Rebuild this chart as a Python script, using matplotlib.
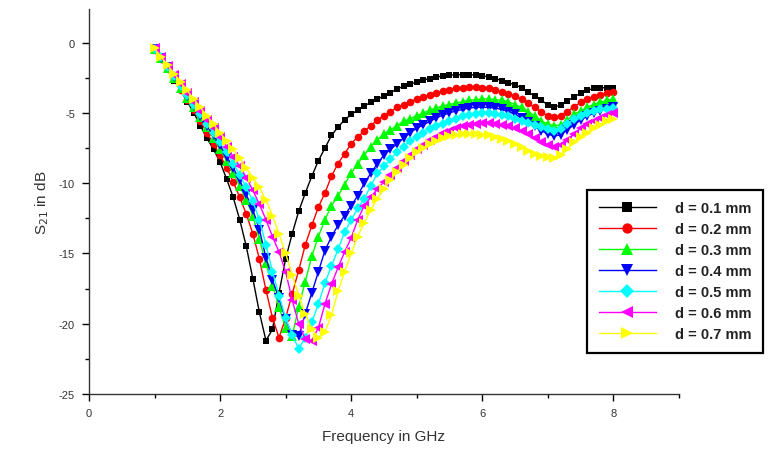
import numpy as np
import matplotlib
matplotlib.use("Agg")
import matplotlib.pyplot as plt
from matplotlib.ticker import MultipleLocator

plt.rcParams['font.family'] = ['Liberation Sans', 'DejaVu Sans']
plt.rcParams['axes.unicode_minus'] = False

# frequency points, 1.0 .. 8.0 GHz in 0.1 steps
freq = np.round(np.arange(10, 81) / 10.0, 1)

s21_d01 = [-0.5, -1.2, -1.9, -2.7, -3.4, -4.2, -5.0, -5.9, -6.8, -7.6,
           -8.5, -9.7, -11.0, -12.6, -14.5, -16.8, -19.2, -21.2, -20.4, -17.8,
           -15.4, -13.6, -12.0, -10.7, -9.5, -8.4, -7.5, -6.6, -6.0, -5.5,
           -5.1, -4.8, -4.5, -4.25, -4.0, -3.8, -3.55, -3.3, -3.1, -2.95,
           -2.8, -2.65, -2.55, -2.45, -2.35, -2.3, -2.28, -2.27, -2.28, -2.3,
           -2.35, -2.45, -2.55, -2.7, -2.85, -3.0, -3.2, -3.5, -3.8, -4.1,
           -4.4, -4.55, -4.45, -4.15, -3.85, -3.6, -3.4, -3.25, -3.2, -3.2, -3.2]

s21_d02 = [-0.5, -1.15, -1.85, -2.6, -3.35, -4.1, -4.8, -5.6, -6.4, -7.2,
           -8.0, -8.9, -9.9, -11.0, -12.2, -13.6, -15.4, -17.6, -19.6, -21.0,
           -19.6, -17.9, -16.2, -14.4, -13.0, -11.7, -10.7, -9.5, -8.6, -7.9,
           -7.2, -6.7, -6.3, -5.9, -5.5, -5.2, -4.9, -4.6, -4.4, -4.2,
           -4.0, -3.85, -3.7, -3.55, -3.45, -3.35, -3.25, -3.2, -3.15, -3.15,
           -3.2, -3.25, -3.35, -3.5, -3.65, -3.8, -4.0, -4.3, -4.6, -4.95,
           -5.2, -5.3, -5.2, -4.9, -4.55, -4.25, -4.0, -3.85, -3.7, -3.6, -3.5]

s21_d03 = [-0.45, -1.1, -1.8, -2.5, -3.2, -3.9, -4.6, -5.3, -6.0, -6.8,
           -7.6, -8.4, -9.3, -10.2, -11.2, -12.3, -14.0, -15.7, -17.3, -18.8,
           -20.3, -20.9, -18.8, -17.0, -15.2, -13.8, -12.6, -11.6, -10.9, -10.1,
           -9.3, -8.6, -8.0, -7.4, -6.9, -6.5, -6.2, -5.9, -5.6, -5.4,
           -5.2, -5.0, -4.8, -4.65, -4.5, -4.4, -4.3, -4.2, -4.1, -4.05,
           -4.0, -4.0, -4.05, -4.1, -4.2, -4.4, -4.6, -4.9, -5.2, -5.55,
           -5.8, -5.9, -5.85, -5.5, -5.1, -4.85, -4.6, -4.4, -4.25, -4.1, -4.0]

s21_d04 = [-0.45, -1.1, -1.75, -2.45, -3.1, -3.8, -4.5, -5.2, -5.9, -6.6,
           -7.3, -8.1, -8.9, -9.8, -10.8, -11.9, -13.3, -15.3, -16.9, -18.2,
           -19.7, -20.8, -20.9, -19.3, -17.8, -16.3, -14.8, -13.8, -13.0, -12.3,
           -11.6, -10.9, -10.0, -9.3, -8.6, -8.0, -7.6, -7.2, -6.8, -6.4,
           -6.1, -5.85, -5.6, -5.35, -5.15, -5.0, -4.85, -4.75, -4.65, -4.6,
           -4.6, -4.6, -4.65, -4.75, -4.9, -5.1, -5.35, -5.65, -5.95, -6.25,
           -6.5, -6.65, -6.55, -6.2, -5.85, -5.5, -5.25, -5.0, -4.85, -4.7, -4.6]

s21_d05 = [-0.45, -1.05, -1.7, -2.4, -3.05, -3.7, -4.4, -5.1, -5.75, -6.4,
           -7.1, -7.8, -8.6, -9.4, -10.3, -11.3, -12.6, -14.4, -16.3, -18.0,
           -19.6, -20.8, -21.8, -21.0, -19.9, -18.6, -17.1, -15.9, -14.7, -13.5,
           -12.6, -11.8, -11.1, -10.2, -9.3, -8.8, -8.3, -7.8, -7.4, -7.0,
           -6.7, -6.4, -6.15, -5.95, -5.75, -5.55, -5.4, -5.25, -5.15, -5.05,
           -5.0, -5.0, -5.05, -5.15, -5.25, -5.4, -5.55, -5.7, -5.85, -6.0,
           -6.15, -6.25, -6.15, -5.8, -5.45, -5.2, -5.0, -4.85, -4.75, -4.7, -4.65]

s21_d06 = [-0.4, -1.0, -1.65, -2.3, -2.95, -3.6, -4.2, -4.85, -5.5, -6.1,
           -6.7, -7.4, -8.1, -8.8, -9.6, -10.5, -11.5, -12.6, -13.8, -14.9,
           -16.3, -18.3, -20.0, -21.1, -21.2, -20.3, -18.6, -17.2, -16.0, -14.9,
           -13.9, -12.6, -11.6, -11.0, -10.4, -9.9, -9.4, -8.9, -8.4, -8.0,
           -7.6, -7.25, -6.95, -6.7, -6.45, -6.25, -6.1, -5.95, -5.85, -5.75,
           -5.7, -5.7, -5.75, -5.85, -5.95, -6.1, -6.3, -6.5, -6.8, -7.05,
           -7.25, -7.4, -7.3, -6.95, -6.5, -6.1, -5.8, -5.55, -5.35, -5.15, -5.0]

s21_d07 = [-0.4, -1.0, -1.6, -2.2, -2.8, -3.4, -4.0, -4.6, -5.2, -5.8,
           -6.4, -7.0, -7.6, -8.2, -8.9, -9.6, -10.3, -11.2, -12.3, -13.6,
           -15.0, -16.5, -18.0, -19.3, -20.4, -21.0, -20.6, -19.4, -17.7, -16.3,
           -15.0, -13.8, -12.8, -11.9, -11.1, -10.4, -9.8, -9.2, -8.7, -8.2,
           -7.8, -7.5, -7.2, -7.0, -6.8, -6.65, -6.55, -6.5, -6.5, -6.5,
           -6.55, -6.6, -6.7, -6.85, -7.0, -7.2, -7.45, -7.7, -7.9, -8.05,
           -8.15, -8.2, -8.0, -7.6, -7.1, -6.7, -6.4, -6.1, -5.85, -5.6, -5.4]

labels = ["d = 0.1 mm", "d = 0.2 mm", "d = 0.3 mm", "d = 0.4 mm",
          "d = 0.5 mm", "d = 0.6 mm", "d = 0.7 mm"]
series = [s21_d01, s21_d02, s21_d03, s21_d04, s21_d05, s21_d06, s21_d07]
colors = ['black', 'red', '#00ff00', 'blue', 'cyan', 'magenta', 'yellow']
markers = ['s', 'o', '^', 'v', 'D', '<', '>']
msizes = [5, 5.5, 6.5, 6.5, 5.5, 6.5, 6.5]

fig = plt.figure(figsize=(7.74, 4.56), dpi=100)
ax = fig.add_axes([0.115, 0.134, 0.762, 0.844])

for y, lab, c, m, ms in zip(series, labels, colors, markers, msizes):
    ax.plot(freq, y, color=c, marker=m, markersize=ms, lw=1.0,
            markeredgewidth=0, label=lab)

ax.set_xlim(0, 9)
ax.set_ylim(-25, 2.4)
ax.xaxis.set_minor_locator(MultipleLocator(1))
ax.yaxis.set_minor_locator(MultipleLocator(2.5))
ax.set_xticks([0, 2, 4, 6, 8])
ax.set_yticks([0, -5, -10, -15, -20, -25])
ax.tick_params(which='major', direction='out', length=5, width=1,
               labelsize=8, labelcolor='#333333', pad=5)
ax.tick_params(which='minor', direction='out', length=3, width=1)

for side in ['top', 'right']:
    ax.spines[side].set_visible(False)
for side in ['left', 'bottom']:
    ax.spines[side].set_linewidth(1.0)
    ax.spines[side].set_color('#333333')

ax.set_xlabel("Frequency in GHz", fontsize=11, color='#333333', labelpad=8)
ax.set_ylabel("S$_{21}$ in dB", fontsize=11, color='#333333', labelpad=6)

leg = fig.legend(loc='upper left', bbox_to_anchor=(0.749, 0.598),
                 prop={'weight': 'bold', 'size': 10.5}, handlelength=3.9,
                 labelspacing=0.48, borderpad=0.8, handletextpad=1.3,
                 markerscale=1.35, fancybox=False, framealpha=1)
leg.get_frame().set_edgecolor('black')
leg.get_frame().set_linewidth(1.6)
for t in leg.get_texts():
    t.set_color('#222222')

fig.savefig("out.png", dpi=100)
